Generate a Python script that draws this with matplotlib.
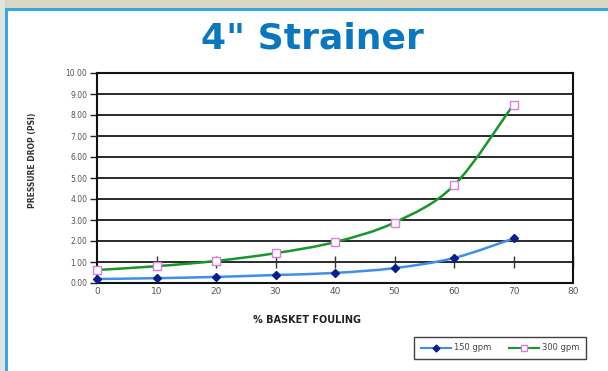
import numpy as np
import matplotlib
matplotlib.use('Agg')
import matplotlib.pyplot as plt
from matplotlib.patches import Rectangle, PathPatch
from matplotlib.path import Path
from matplotlib.lines import Line2D

fouling = [0, 10, 20, 30, 40, 50, 60, 70]
drop_150 = [0.19, 0.23, 0.29, 0.38, 0.48, 0.71, 1.19, 2.12]
drop_300 = [0.62, 0.80, 1.05, 1.42, 1.95, 2.88, 4.65, 8.50]
series_labels = ['150 gpm', '300 gpm']
y_ticks = list(range(0, 11))
x_ticks = list(range(0, 90, 10))

BLUE_LINE = '#3f8fe8'
BLUE_MARK = '#0a1f8f'
GREEN_LINE = '#17962a'
PINK_MARK = '#e27be0'


# Excel-like smoothed line: Catmull-Rom segments turned into cubic beziers
def smooth_path(xs, ys):
    pts = np.column_stack([xs, ys]).astype(float)
    verts = [pts[0]]
    codes = [Path.MOVETO]
    n = len(pts)
    for i in range(n - 1):
        p0 = pts[max(i - 1, 0)]
        p1 = pts[i]
        p2 = pts[i + 1]
        p3 = pts[min(i + 2, n - 1)]
        c1 = p1 + (p2 - p0) / 6.0
        c2 = p2 - (p3 - p1) / 6.0
        verts += [c1, c2, p2]
        codes += [Path.CURVE4] * 3
    return Path(verts, codes)


fig = plt.figure(figsize=(6.08, 3.71), dpi=100)
fig.patch.set_facecolor('white')

# page frame: beige strip on top, grey strip on left, blue border
fig.patches.append(Rectangle((0, 1 - 8 / 371), 1, 8 / 371, transform=fig.transFigure,
                             facecolor='#d9d6c3', edgecolor='none', zorder=0))
fig.patches.append(Rectangle((0, 0), 5 / 608, 1, transform=fig.transFigure,
                             facecolor='#dfe6df', edgecolor='none', zorder=0))
fig.patches.append(Rectangle((5 / 608, 0), 3 / 608, 1 - 8 / 371, transform=fig.transFigure,
                             facecolor='#3aa6e0', edgecolor='none', zorder=1))
fig.patches.append(Rectangle((5 / 608, 1 - 11 / 371), 1, 3 / 371, transform=fig.transFigure,
                             facecolor='#3aa6e0', edgecolor='none', zorder=1))

fig.text(0.514, 0.895, '4" Strainer', ha='center', va='center',
         fontsize=26, fontweight='bold', color='#0a78c0')

ax = fig.add_axes([97 / 608, 1 - 283 / 371, 476 / 608, 210 / 371])
ax.set_xlim(0, 80)
ax.set_ylim(0, 10)

for y in y_ticks[1:]:
    ax.axhline(y, color='#2a2a2a', lw=1.4, zorder=1)

for s in ax.spines.values():
    s.set_color('#111111')
    s.set_linewidth(1.5)

# x tick marks cross the 1.00 gridline
ax.plot(x_ticks[1:], [1] * len(x_ticks[1:]), linestyle='none', marker='|',
        markersize=9, mew=1.0, color='#333333', zorder=2, clip_on=False)

ax.set_yticks(y_ticks)
ax.set_yticklabels(['{0:.2f}'.format(v) for v in y_ticks])
ax.set_xticks(x_ticks)
ax.tick_params(axis='y', length=5, width=1, color='#222222', labelsize=5.5,
               labelcolor='#555555', pad=2)
ax.tick_params(axis='x', length=0, labelsize=6.5, labelcolor='#555555', pad=3)

for xs, ys, lc in [(fouling, drop_150, BLUE_LINE), (fouling, drop_300, GREEN_LINE)]:
    ax.add_patch(PathPatch(smooth_path(xs, ys), fill=False, edgecolor=lc,
                           lw=1.8, zorder=3))

ax.plot(fouling, drop_150, linestyle='none', marker='D', markersize=4,
        color=BLUE_MARK, zorder=4, clip_on=False)
ax.plot(fouling, drop_300, linestyle='none', marker='s', markersize=5.5,
        markerfacecolor='white', markeredgecolor=PINK_MARK, mew=1.0,
        zorder=4, clip_on=False)

fig.text(32 / 608, 1 - 160 / 371, 'PRESSURE DROP (PSI)', rotation=90,
         ha='center', va='center', fontsize=5.5, fontweight='bold', color='#333333')
fig.text(307 / 608, 1 - 320 / 371, '% BASKET FOULING', ha='center', va='center',
         fontsize=7, fontweight='bold', color='#222222')

handles = [
    Line2D([], [], color=BLUE_LINE, lw=1.5, marker='D', markersize=3.5,
           markerfacecolor=BLUE_MARK, markeredgecolor=BLUE_MARK),
    Line2D([], [], color=GREEN_LINE, lw=1.5, marker='s', markersize=5,
           markerfacecolor='white', markeredgecolor=PINK_MARK),
]
leg = fig.legend(handles, series_labels, loc='center',
                 bbox_to_anchor=(500 / 608, 1 - 348 / 371), ncol=2,
                 fontsize=6, frameon=True, fancybox=False, handlelength=3.6,
                 columnspacing=2.2, borderpad=0.8, borderaxespad=0,
                 handletextpad=0.3)
leg.get_frame().set_edgecolor('#111111')
leg.get_frame().set_linewidth(1.0)
for t in leg.get_texts():
    t.set_color('#444444')

fig.savefig('out.png', dpi=100)
